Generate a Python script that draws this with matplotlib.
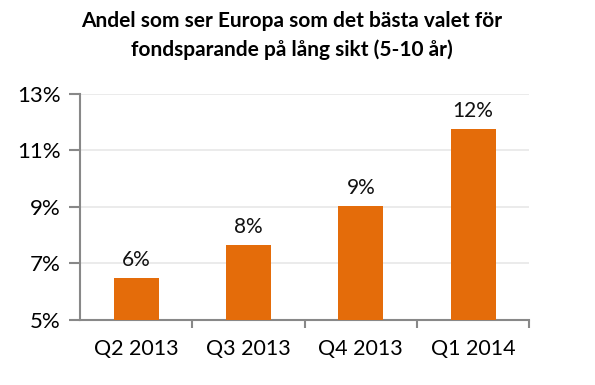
import numpy as np
import matplotlib.pyplot as plt
from matplotlib.ticker import FixedLocator

categories = ["Q2 2013", "Q3 2013", "Q4 2013", "Q1 2014"]
values = [6.48, 7.65, 9.03, 11.75]
labels = ["6%", "8%", "9%", "12%"]
yticks = [5, 7, 9, 11, 13]

plt.rcParams['font.family'] = ['Lato', 'DejaVu Sans']

fig = plt.figure(figsize=(5.95, 3.85), dpi=100)
ax = fig.add_axes([0.1345, 0.169, 0.755, 0.587])

x = np.arange(len(categories))
ax.bar(x, values, width=0.4, color="#E46C0A", zorder=3)
for xi, v, lab in zip(x, values, labels):
    ax.text(xi, v + 0.3, lab, ha="center", va="bottom", fontsize=15, color="#111111")

ax.set_xlim(-0.5, len(categories) - 0.5)
ax.set_ylim(5, 13)
ax.set_yticks(yticks)
ax.set_yticklabels([f"{t}%" for t in yticks], fontsize=16)
ax.set_xticks(x)
ax.set_xticklabels(categories, fontsize=15.5)
ax.xaxis.set_minor_locator(FixedLocator(np.arange(len(categories)) + 0.5))
ax.tick_params(axis="x", which="major", length=0, pad=14)
ax.tick_params(axis="x", which="minor", length=6, color="#888888", width=1.5)
ax.tick_params(axis="y", length=8, color="#888888", width=1.5, pad=6)

ax.grid(axis="y", color="#e8e8e8", linewidth=1.2, zorder=0)
for s in ["top", "right"]:
    ax.spines[s].set_visible(False)
for s in ["left", "bottom"]:
    ax.spines[s].set_color("#888888")
    ax.spines[s].set_linewidth(1.5)

fig.text(0.49, 0.907, "Andel som ser Europa som det bästa valet för\nfondsparande på lång sikt (5-10 år)",
         ha="center", va="center", fontsize=15, fontweight="bold", linespacing=1.5)

fig.savefig("out.png", dpi=100)
plt.close(fig)
